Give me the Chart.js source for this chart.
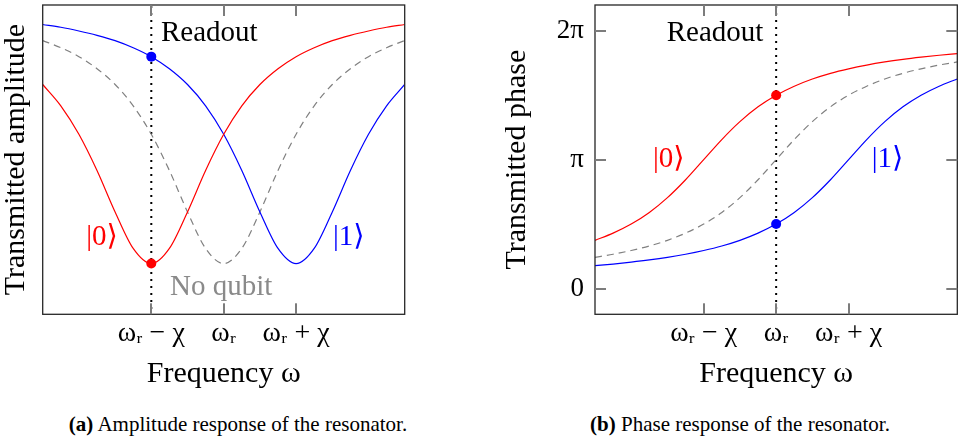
<!DOCTYPE html>
<html><head><meta charset="utf-8">
<script src="https://cdn.jsdelivr.net/npm/chart.js@4/dist/chart.umd.min.js"></script>
<style>
body{margin:0;background:#fff;width:966px;height:444px;position:relative;overflow:hidden;font-family:'Liberation Serif','DejaVu Serif',serif;color:#000;}
#c1{position:absolute;left:0;top:0;}
#c2{position:absolute;left:483px;top:0;}
.cap{position:absolute;top:414px;font-size:21px;line-height:21px;white-space:nowrap;transform:translateX(-50%);}
</style></head><body>
<canvas id="c1" width="483" height="400"></canvas>
<canvas id="c2" width="483" height="400"></canvas>
<div class="cap" style="left:238px"><b>(a)</b> Amplitude response of the resonator.</div>
<div class="cap" style="left:740px"><b>(b)</b> Phase response of the resonator.</div>
<script>
// ---- data (x in units of chi, relative to omega_r) ----
const frequencies = [-2.5,-2.25,-2,-1.75,-1.5,-1.25,-1,-0.75,-0.5,-0.25,0,0.25,0.5,0.75,1,1.25,1.5,1.75,2,2.25,2.5];
const freqTickValues = [-1, 0, 1];
const freqTickLabels = ['ωᵣ − χ', 'ωᵣ', 'ωᵣ + χ'];

const amplitudeState0  = [0.743,0.674,0.582,0.465,0.331,0.213,0.164,0.213,0.331,0.465,0.582,0.674,0.743,0.794,0.833,0.862,0.885,0.902,0.916,0.928,0.937];
const amplitudeState1  = [0.937,0.928,0.916,0.902,0.885,0.862,0.833,0.794,0.743,0.674,0.582,0.465,0.331,0.213,0.164,0.213,0.331,0.465,0.582,0.674,0.743];
const amplitudeNoQubit = [0.885,0.862,0.833,0.794,0.743,0.674,0.582,0.465,0.331,0.213,0.164,0.213,0.331,0.465,0.582,0.674,0.743,0.794,0.833,0.862,0.885];

// phase in units of pi
const phaseState0  = [0.374,0.430,0.500,0.590,0.705,0.844,1.000,1.156,1.295,1.410,1.500,1.570,1.626,1.670,1.705,1.734,1.758,1.778,1.795,1.810,1.823];
const phaseState1  = [0.177,0.190,0.205,0.222,0.242,0.266,0.295,0.330,0.374,0.430,0.500,0.590,0.705,0.844,1.000,1.156,1.295,1.410,1.500,1.570,1.626];
const phaseNoQubit = [0.242,0.266,0.295,0.330,0.374,0.430,0.500,0.590,0.705,0.844,1.000,1.156,1.295,1.410,1.500,1.570,1.626,1.670,1.705,1.734,1.758];
const phaseTickValues = [0, 1, 2];
const phaseTickLabels = ['0', 'π', '2π'];

const ampReadoutFreq = -1;
const ampReadout0 = 0.164;
const ampReadout1 = 0.833;
const phaseReadoutFreq = 0;
const phaseReadout0 = 1.5;
const phaseReadout1 = 0.5;

const RED = '#ff0000', BLUE = '#0000ff', GREY = '#808080';
const FONT = "'Liberation Serif','DejaVu Serif','DejaVu Sans',serif";

function pts(ys){ return frequencies.map((f,i)=>({x:f,y:ys[i]})); }
function curve(ys,color,dash){
  return {data:pts(ys),borderColor:color,borderWidth:1.2,borderDash:dash||[],pointRadius:0,
    cubicInterpolationMode:'monotone',fill:false,order:2};
}
function marker(x,y,color){
  return {data:[{x:x,y:y}],showLine:false,pointRadius:5,pointHoverRadius:5,
    pointBackgroundColor:color,pointBorderColor:color,borderWidth:0,order:0};
}
function noPad(s){ s.paddingTop=0; s.paddingBottom=0; s.paddingLeft=0; s.paddingRight=0; }

function decorPlugin(cfg){
  return {
    id:'decor',
    beforeDatasetsDraw(chart){
      const {ctx,chartArea:a,scales:{x}} = chart;
      ctx.save();
      const rx=x.getPixelForValue(cfg.readoutX);
      ctx.strokeStyle='#000'; ctx.lineWidth=2; ctx.setLineDash([2,5]);
      ctx.beginPath(); ctx.moveTo(rx,a.top+1); ctx.lineTo(rx,a.bottom); ctx.stroke();
      ctx.restore();
    },
    afterDraw(chart){
      const {ctx,chartArea:a,scales:{x,y}} = chart;
      ctx.save();
      ctx.setLineDash([]);
      ctx.globalAlpha=1;
      ctx.textBaseline='alphabetic'; ctx.textAlign='left';
      cfg.labels.forEach(l=>{
        ctx.fillStyle=l.color; ctx.font=l.size+'px '+FONT;
        ctx.fillText(l.text,x.getPixelForValue(l.x),y.getPixelForValue(l.y));
      });
      // frame
      ctx.strokeStyle='#262626'; ctx.lineWidth=1.3;
      ctx.strokeRect(a.left,a.top,a.right-a.left,a.bottom-a.top);
      // inward ticks
      ctx.fillStyle='#7c7c7c';
      for(let i=0;i<freqTickValues.length;i++){
        const px=Math.round(x.getPixelForValue(freqTickValues[i]));
        ctx.fillRect(px-1,a.top,2,11);
        ctx.fillRect(px-1,a.bottom-11,2,11);
      }
      const yt=cfg.yTicks||[];
      for(let i=0;i<yt.length;i++){
        const py=Math.round(y.getPixelForValue(yt[i]));
        ctx.fillRect(a.left,py-1,11,2);
        ctx.fillRect(a.right-11,py-1,11,2);
      }
      ctx.restore();
    }
  };
}

function xScale(){
  return {type:'linear',min:-2.5,max:2.5,
    grid:{display:false,drawTicks:false},border:{display:false},
    afterBuildTicks:s=>{s.ticks=freqTickValues.map(v=>({value:v}));},
    afterFit:s=>{s.height=85.7; noPad(s);},
    ticks:{padding:3,color:'#000',font:{family:FONT,size:28},callback:(v,i)=>freqTickLabels[i]},
    title:{display:true,text:'Frequency ω',color:'#000',font:{family:FONT,size:30},padding:{top:0,bottom:8}}
  };
}

new Chart(document.getElementById('c1'),{
  type:'line',
  data:{datasets:[
    marker(ampReadoutFreq,ampReadout0,RED),
    marker(ampReadoutFreq,ampReadout1,BLUE),
    curve(amplitudeState0,RED),
    curve(amplitudeState1,BLUE),
    curve(amplitudeNoQubit,GREY,[7,5])
  ]},
  options:{
    responsive:false,animation:false,devicePixelRatio:1,
    layout:{padding:{top:3.3,right:78.3,left:0,bottom:0}},
    plugins:{legend:{display:false},tooltip:{enabled:false}},
    scales:{
      x:xScale(),
      y:{type:'linear',min:0,max:1,
        grid:{display:false,drawTicks:false},border:{display:false},
        ticks:{display:false},
        afterFit:s=>{s.width=42.7; noPad(s);},
        title:{display:true,text:'Transmitted amplitude',color:'#000',font:{family:FONT,size:30},padding:{top:-2,bottom:0}}
      }
    }
  },
  plugins:[decorPlugin({readoutX:ampReadoutFreq,yTicks:[],labels:[
    {text:'Readout',x:-0.866,y:0.884,color:'#000',size:29},
    {text:'|0⟩',x:-1.90,y:0.223,color:RED,size:29},
    {text:'|1⟩',x:1.51,y:0.223,color:BLUE,size:29},
    {text:'No qubit',x:-0.74,y:0.062,color:'#8a8a8a',size:29}
  ]})]
});

new Chart(document.getElementById('c2'),{
  type:'line',
  data:{datasets:[
    marker(phaseReadoutFreq,phaseReadout0,RED),
    marker(phaseReadoutFreq,phaseReadout1,BLUE),
    curve(phaseState0,RED),
    curve(phaseState1,BLUE),
    curve(phaseNoQubit,GREY,[7,5])
  ]},
  options:{
    responsive:false,animation:false,devicePixelRatio:1,
    layout:{padding:{top:3.3,right:8.7,left:0,bottom:0}},
    plugins:{legend:{display:false},tooltip:{enabled:false}},
    scales:{
      x:xScale(),
      y:{type:'linear',min:-0.2,max:2.2,
        grid:{display:false,drawTicks:false},border:{display:false},
        afterBuildTicks:s=>{s.ticks=phaseTickValues.map(v=>({value:v}));},
        afterFit:s=>{s.width=112; noPad(s);},
        ticks:{padding:11,color:'#000',font:{family:FONT,size:27},callback:(v,i)=>phaseTickLabels[i]},
        title:{display:true,text:'Transmitted phase',color:'#000',font:{family:FONT,size:30},padding:{top:16.5,bottom:0}}
      }
    }
  },
  plugins:[decorPlugin({readoutX:phaseReadoutFreq,yTicks:phaseTickValues,labels:[
    {text:'Readout',x:-1.51,y:1.923,color:'#000',size:29},
    {text:'|0⟩',x:-1.70,y:0.946,color:RED,size:29},
    {text:'|1⟩',x:1.32,y:0.946,color:BLUE,size:29}
  ]})]
});
</script>
</body></html>
